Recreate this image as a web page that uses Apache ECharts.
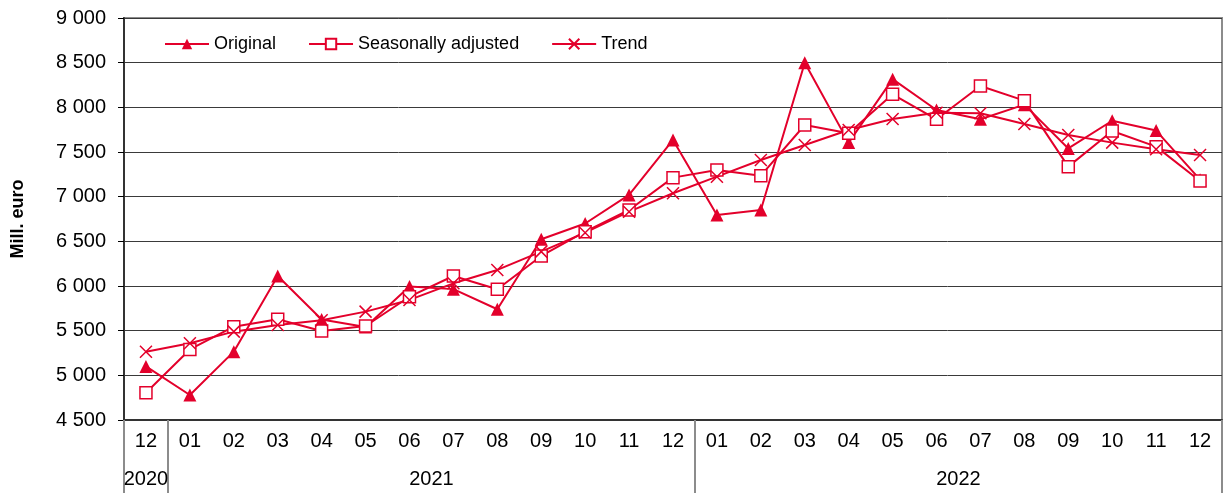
<!DOCTYPE html>
<html lang="en">
<head>
    <meta charset="UTF-8">
    <title>Mill. euro</title>
    <script src="https://cdn.jsdelivr.net/npm/echarts@6/dist/echarts.min.js"></script>
    <style>
        html, body { margin: 0; padding: 0; background: #fff; }
    </style>
</head>
<body>
    <div id="container" style="width: 1229px; height: 493px;"></div>

    <script>
        // months, 12/2020 .. 12/2022
        var months = ['12', '01', '02', '03', '04', '05', '06', '07', '08', '09', '10', '11', '12',
            '01', '02', '03', '04', '05', '06', '07', '08', '09', '10', '11', '12'];
        var years = ['2020', '2021', '2022'];
        var yearTickPos = [0, 1, 13, 25];
        var yearLabelPos = [0.5, 7, 19];

        var original = [5100, 4780, 5265, 6112, 5625, 5540, 5995, 5965, 5740, 6523, 6700, 7020, 7635,
            6795, 6850, 8500, 7605, 8315, 7970, 7866, 8030, 7540, 7850, 7740, 7190];
        var seasonal = [4806, 5290, 5545, 5627, 5496, 5552, 5880, 6112, 5964, 6336, 6608, 6851, 7213,
            7299, 7235, 7802, 7709, 8146, 7866, 8239, 8075, 7336, 7735, 7560, 7176];
        var trend = [5265, 5359, 5489, 5563, 5617, 5713, 5844, 6030, 6180, 6385, 6597, 6832, 7038,
            7224, 7411, 7579, 7746, 7870, 7940, 7933, 7814, 7690, 7605, 7530, 7467];

        var red = '#E3002B';
        var font = 'Arial, "Liberation Sans", sans-serif';

        var myChart = echarts.init(document.getElementById('container'));

        function fmt(v) {
            return String(v).replace(/\B(?=(\d{3})+$)/g, ' ');
        }

        var option = {
            animation: false,
            textStyle: { fontFamily: font },
            grid: {
                left: 124, right: 7, top: 18, bottom: 73,
                outerBoundsMode: 'none',
                containLabel: false,
                show: true, borderColor: '#8c8c8c', borderWidth: 2
            },
            legend: {
                left: 159, top: 30,
                itemWidth: 44, itemHeight: 13, itemGap: 32,
                textStyle: { fontSize: 18, color: '#000', fontFamily: font },
                data: ['Original', 'Seasonally adjusted', 'Trend']
            },
            xAxis: [{
                type: 'category',
                data: months,
                boundaryGap: true,
                axisLine: { lineStyle: { color: '#333', width: 2 } },
                axisTick: { interval: 0, length: 37, lineStyle: { color: '#000' } },
                axisLabel: { interval: 0, fontSize: 20, color: '#000', margin: 11 },
                splitLine: { show: false }
            }, {
                type: 'value',
                min: 0, max: 25,
                position: 'bottom',
                axisLine: { show: false },
                axisTick: { show: true, customValues: yearTickPos, length: 73, lineStyle: { color: '#8c8c8c', width: 2 } },
                axisLabel: {
                    customValues: yearLabelPos, fontSize: 20, color: '#000', margin: 49,
                    formatter: function (v) { return years[yearLabelPos.indexOf(v)]; }
                },
                splitLine: { show: false }
            }],
            yAxis: {
                type: 'value',
                min: 4500, max: 9000, interval: 500,
                name: 'Mill. euro',
                nameLocation: 'middle',
                nameGap: 97,
                nameTextStyle: { fontSize: 18, fontWeight: 'bold', color: '#000' },
                axisLine: { show: true, lineStyle: { color: '#333', width: 2 } },
                axisTick: { show: true, length: 6, lineStyle: { color: '#000' } },
                axisLabel: { fontSize: 20, color: '#000', margin: 18, formatter: fmt },
                splitLine: { lineStyle: { color: '#3a3a3a', width: 1 } }
            },
            series: [{
                name: 'Original',
                type: 'line',
                data: original,
                symbol: 'triangle',
                symbolSize: 13,
                color: red,
                lineStyle: { width: 2, color: red },
                itemStyle: { color: red }
            }, {
                name: 'Seasonally adjusted',
                type: 'line',
                data: seasonal,
                symbol: 'rect',
                symbolSize: 12,
                color: red,
                lineStyle: { width: 2, color: red },
                itemStyle: { color: '#fff', borderColor: red, borderWidth: 1.5 }
            }, {
                name: 'Trend',
                type: 'line',
                data: trend,
                symbol: 'path://M0,0L10,10M10,0L0,10',
                symbolSize: 12,
                color: red,
                lineStyle: { width: 2, color: red },
                itemStyle: { color: 'none', borderColor: red, borderWidth: 1.5 }
            }]
        };

        myChart.setOption(option);
    </script>
</body>
</html>
